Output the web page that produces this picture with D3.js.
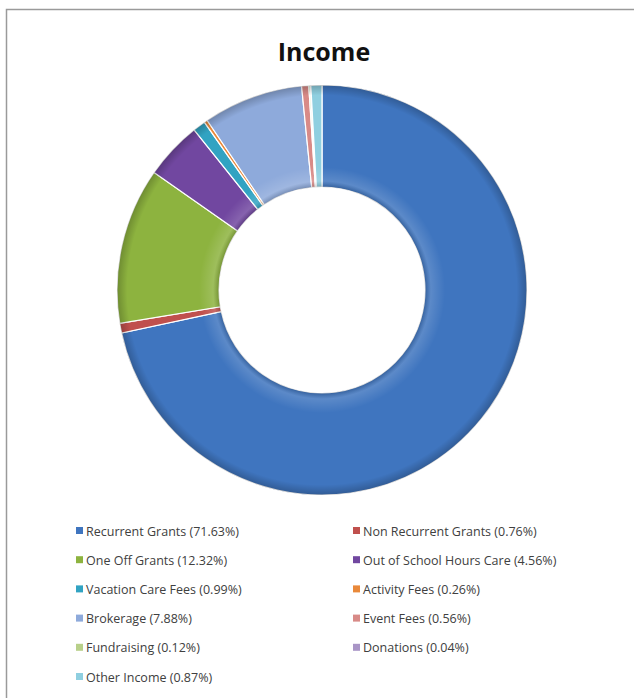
<!DOCTYPE html>
<html>
<head>
<meta charset="utf-8">
<script src="https://cdn.jsdelivr.net/npm/d3@7"></script>
<style>
  html, body { margin: 0; padding: 0; background: #fff; }
  svg { display: block; }
</style>
</head>
<body>
<div class="chart-container"></div>
<script>
// Income shares
const categories = ["Recurrent Grants", "Non Recurrent Grants", "One Off Grants", "Out of School Hours Care",
  "Vacation Care Fees", "Activity Fees", "Brokerage", "Event Fees", "Fundraising", "Donations", "Other Income"];
const shares = [71.63, 0.76, 12.32, 4.56, 0.99, 0.26, 7.88, 0.56, 0.12, 0.04, 0.87];
const colours = ["#3f75bf", "#c0504d", "#8db33f", "#7147a0", "#31a3c2", "#e9893a",
  "#8eaadb", "#d88a87", "#b8d08a", "#a995c6", "#8fcfe0"];
const title = "Income";

function createChart(){
  const width = 634, height = 698;
  const cx = 322, cy = 290, outer = 205, inner = 103;

  const svg = d3.select(".chart-container").append("svg")
    .attr("width", width).attr("height", height);

  // chart frame (only left and top edges are visible)
  svg.append("path")
    .attr("d", `M6.5,${height} V9.5 H${width}`)
    .attr("fill", "none").attr("stroke", "#9a9a9a").attr("stroke-width", 1.5);

  svg.append("text")
    .attr("x", 324).attr("y", 61)
    .attr("text-anchor", "middle")
    .attr("font-family", "'Open Sans', sans-serif")
    .attr("font-weight", "bold").attr("font-size", 25)
    .attr("fill", "#111")
    .text(title);

  const data = categories.map((c, i) => ({name: c, value: shares[i], colour: colours[i]}));

  const pie = d3.pie().sort(null).value(d => d.value);
  const arc = d3.arc().innerRadius(inner).outerRadius(outer);

  // shading to fake Excel's bevel: darker at both rims, a little lighter near the hole
  const shade = svg.append("defs").append("radialGradient")
    .attr("id", "shade").attr("gradientUnits", "userSpaceOnUse")
    .attr("cx", 0).attr("cy", 0).attr("r", outer);
  shade.append("stop").attr("offset", inner / outer).attr("stop-color", "#000").attr("stop-opacity", 0.18);
  shade.append("stop").attr("offset", (inner + 6) / outer).attr("stop-color", "#fff").attr("stop-opacity", 0.15);
  shade.append("stop").attr("offset", (inner + 20) / outer).attr("stop-color", "#fff").attr("stop-opacity", 0);
  shade.append("stop").attr("offset", 0.95).attr("stop-color", "#000").attr("stop-opacity", 0);
  shade.append("stop").attr("offset", 1).attr("stop-color", "#000").attr("stop-opacity", 0.22);

  const g = svg.append("g").attr("transform", `translate(${cx},${cy})`);
  const arcs = pie(data);

  g.selectAll("path.slice")
    .data(arcs)
    .join("path")
    .attr("class", "slice")
    .attr("d", arc)
    .attr("fill", d => d.data.colour)
    .attr("stroke", "#fff")
    .attr("stroke-width", 1.2);

  g.selectAll("path.shade")
    .data(arcs)
    .join("path")
    .attr("class", "shade")
    .attr("d", arc)
    .attr("fill", "url(#shade)");

  // legend in two columns
  const colX = [76, 353], rowY = 531, rowH = 29.2;
  const legend = svg.append("g")
    .attr("font-family", "'Open Sans', sans-serif")
    .attr("font-size", 12.5)
    .attr("fill", "#404040");

  const items = legend.selectAll("g")
    .data(data)
    .join("g")
    .attr("transform", (d, i) => `translate(${colX[i % 2]},${rowY + Math.floor(i / 2) * rowH})`);

  items.append("rect")
    .attr("x", 0).attr("y", -4).attr("width", 7).attr("height", 7)
    .attr("fill", d => d.colour);

  items.append("text")
    .attr("x", 10).attr("y", 4.5)
    .text(d => `${d.name} (${d.value.toFixed(2)}%)`);
}

createChart();
</script>
</body>
</html>
